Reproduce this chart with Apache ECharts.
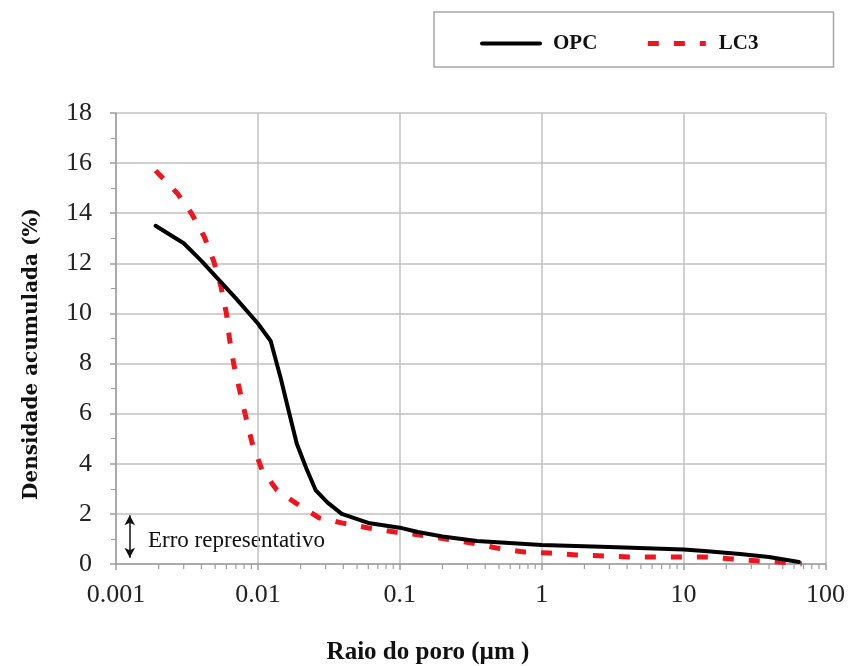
<!DOCTYPE html>
<html>
<head>
<meta charset="utf-8">
<script src="https://cdn.jsdelivr.net/npm/echarts@6/dist/echarts.min.js"></script>
<style>html,body{margin:0;padding:0;background:#fff;}#c{width:848px;height:666px;}</style>
</head>
<body>
<div id="c"></div>
<script>
const opcX = [0.0019, 0.003, 0.004, 0.005, 0.007, 0.01, 0.0123, 0.0145, 0.0165, 0.0188, 0.022, 0.0255, 0.031, 0.039, 0.06, 0.1, 0.134, 0.2, 0.35, 1, 3, 10, 14, 25, 40, 65];
const opcY = [13.5, 12.8, 12.1, 11.5, 10.6, 9.6, 8.9, 7.4, 6.1, 4.8, 3.8, 2.95, 2.45, 2.0, 1.64, 1.45, 1.28, 1.1, 0.92, 0.76, 0.68, 0.58, 0.52, 0.4, 0.28, 0.08];
const lc3X = [0.0019, 0.0027, 0.0034, 0.0042, 0.0049, 0.0055, 0.006, 0.0063, 0.0068, 0.008, 0.0091, 0.0107, 0.0136, 0.0185, 0.027, 0.039, 0.06, 0.092, 0.138, 0.21, 0.32, 0.48, 0.75, 1.14, 1.76, 4.1, 10, 15, 22, 34, 53, 68];
const lc3Y = [15.7, 14.8, 14.0, 13.05, 12.06, 11.06, 10.0, 9.0, 7.9, 6.15, 4.83, 3.75, 2.95, 2.43, 1.84, 1.64, 1.44, 1.28, 1.16, 1.0, 0.84, 0.64, 0.48, 0.44, 0.36, 0.28, 0.28, 0.28, 0.2, 0.12, 0.06, 0.0];
const seriesNames = ['OPC', 'LC3'];
const xTicks = [0.001, 0.01, 0.1, 1, 10, 100];
const xMinorTicks = [
  0.002, 0.003, 0.004, 0.005, 0.006, 0.007, 0.008, 0.009,
  0.02, 0.03, 0.04, 0.05, 0.06, 0.07, 0.08, 0.09,
  0.2, 0.3, 0.4, 0.5, 0.6, 0.7, 0.8, 0.9,
  2, 3, 4, 5, 6, 7, 8, 9,
  20, 30, 40, 50, 60, 70, 80, 90
];
const errX = 0.00125;
const errLow = 0.25;
const errHigh = 1.95;
const errText = 'Erro representativo';
const xTitle = 'Raio do poro (µm )';
const yTitle = 'Densidade acumulada (%)';

const pair = (xs, ys) => xs.map((x, i) => [x, ys[i]]);
const chart = echarts.init(document.getElementById('c'), null, {renderer: 'canvas'});
const gridColor = '#c0c0c0';
const axisColor = '#9e9e9e';
const opcLine = {color: '#000', width: 4, type: 'solid', join: 'round', cap: 'round'};
const lc3Line = {color: '#f0141e', width: 5, type: [11, 15], cap: 'butt'};
chart.setOption({
  animation: false,
  backgroundColor: '#fff',
  grid: {left: 116, right: 18, top: 113, bottom: 102, containLabel: false},
  legend: {
    left: 434, top: 12,
    padding: [21, 75, 13, 46],
    borderColor: '#a6a6a6', borderWidth: 1.5,
    itemWidth: 58, itemHeight: 14, itemGap: 48,
    data: [
      {name: seriesNames[0], lineStyle: opcLine},
      {name: seriesNames[1], lineStyle: lc3Line}
    ],
    itemStyle: {color: 'rgba(0,0,0,0)', borderWidth: 0, opacity: 0},
    textStyle: {fontFamily: 'Liberation Serif', fontWeight: 'bold', fontSize: 21, color: '#111', padding: [0, 0, 0, 8]}
  },
  xAxis: {
    type: 'log', logBase: 10, min: xTicks[0], max: xTicks[xTicks.length - 1],
    axisLine: {show: true, lineStyle: {color: axisColor, width: 1.5}},
    axisTick: {show: true, length: 6, lineStyle: {color: axisColor, width: 1.5}},
    minorTick: {show: false},
    splitLine: {show: true, lineStyle: {color: gridColor, width: 1.5}},
    axisLabel: {
      margin: 18, color: '#222', fontFamily: 'Liberation Serif', fontSize: 26,
      formatter: v => String(v)
    }
  },
  yAxis: {
    type: 'value', min: 0, max: 18, interval: 2,
    axisLine: {show: true, lineStyle: {color: axisColor, width: 1.5}},
    axisTick: {show: true, length: 6, lineStyle: {color: axisColor, width: 1.5}},
    minorTick: {show: true, length: 5, splitNumber: 2, lineStyle: {color: axisColor}},
    splitLine: {show: true, lineStyle: {color: gridColor, width: 1.5}},
    axisLabel: {margin: 24, color: '#222', fontFamily: 'Liberation Serif', fontSize: 26}
  },
  graphic: [
    {type: 'text', x: 428, y: 653, style: {text: xTitle, align: 'center', verticalAlign: 'middle', font: 'bold 25px "Liberation Serif"', fill: '#111'}},
    {type: 'text', x: 32, y: 354, rotation: Math.PI / 2, style: {text: yTitle, align: 'center', verticalAlign: 'middle', font: 'bold 20px "DejaVu Serif"', fill: '#111'}},
    {type: 'text', x: 148, y: 541, style: {text: errText, align: 'left', verticalAlign: 'middle', font: '23px "Liberation Serif"', fill: '#111'}}
  ],
  series: [
    {
      name: seriesNames[0], type: 'line', data: pair(opcX, opcY),
      symbol: 'none', showSymbol: false, smooth: false, color: '#000',
      lineStyle: opcLine,
      z: 3,
      markLine: {
        silent: true, symbol: ['arrow', 'arrow'], symbolSize: [8, 10],
        label: {show: false},
        lineStyle: {color: '#111', width: 1.5, type: 'solid'},
        data: [[{coord: [errX, errLow]}, {coord: [errX, errHigh]}]]
      }
    },
    {
      name: seriesNames[1], type: 'line', data: pair(lc3X, lc3Y),
      symbol: 'none', showSymbol: false, smooth: false, color: '#f0141e',
      lineStyle: lc3Line,
      z: 2
    },
    {
      name: 'minorTicks', type: 'custom', silent: true, clip: false, z: 1,
      data: xMinorTicks.map(v => [v, 0]),
      renderItem: (params, api) => {
        const p = api.coord([api.value(0), 0]);
        return {
          type: 'line',
          shape: {x1: p[0], y1: p[1], x2: p[0], y2: p[1] + 5},
          style: {stroke: axisColor, lineWidth: 1.2}
        };
      }
    }
  ]
});
</script>
</body>
</html>
